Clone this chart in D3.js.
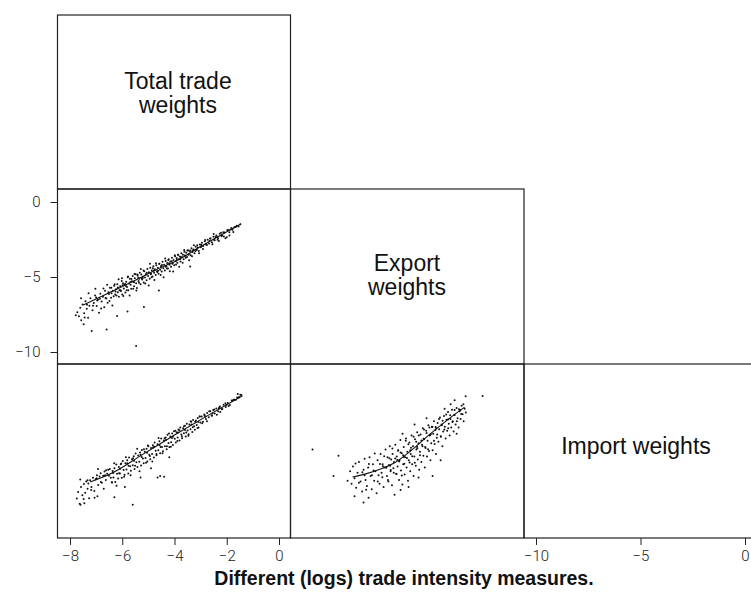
<!DOCTYPE html>
<html>
<head>
<meta charset="utf-8">
<script src="https://cdn.jsdelivr.net/npm/d3@7"></script>
<style>
  body { margin: 0; background: #fff; }
  .tick text { font-family: Roboto, "Liberation Sans", sans-serif; font-weight: 300; font-size: 15px; fill: #222; }
  .tick line { stroke: #222; }
  .diag { font-family: "Liberation Sans", Arial, sans-serif; font-size: 23px; fill: #111; }
</style>
</head>
<body>
<svg id="chart" width="751" height="598"></svg>
<script>
// variable names on the diagonal
var diagLabels = [["Total trade", "weights"], ["Export", "weights"], ["Import weights"]];
var title = "Different (logs) trade intensity measures.";

// tick labels
var totalTicks = [-8, -6, -4, -2, 0];
var exportTicks = [0, -5, -10];
var importTicks = [-10, -5, 0];

// export (y) against total (x)
var totalExport = [
  [-7.72,-7.35],[-7.66,-7.62],[-7.61,-7.05],[-7.57,-7.88],[-7.52,-6.83],[-7.46,-7.41],[-7.41,-6.62],[-7.36,-7.12],
  [-7.31,-7.71],[-7.26,-6.91],[-7.22,-6.42],[-7.14,-7.21],[-7.09,-6.74],[-7.04,-6.23],[-6.98,-6.93],[-6.93,-6.52],
  [-6.89,-7.38],[-6.84,-6.12],[-6.79,-6.63],[-6.74,-6.31],[-6.69,-7.02],[-6.66,-5.92],[-6.61,-6.44],[-6.56,-6.71],
  [-6.51,-6.13],[-7.17,-8.6],[-6.6,-8.5],[-5.47,-9.6],[-5.17,-7.0],[-7.48,-8.15],[-7.78,-7.55],[-6.2,-7.6],
  [-5.8,-7.3],[-4.6,-5.9],[-3.4,-4.3],
  [-6.47,-5.72],[-6.43,-6.38],[-6.41,-6.08],[-6.36,-5.91],[-6.33,-6.29],[-6.31,-5.58],[-6.27,-6.17],[-6.24,-5.82],
  [-6.19,-5.49],[-6.17,-6.02],[-6.13,-6.31],[-6.11,-5.88],[-6.08,-5.61],[-6.05,-5.93],[-6.02,-5.27],[-6.0,-6.16],
  [-5.97,-5.42],[-5.94,-5.77],[-5.92,-5.51],[-5.88,-6.03],[-5.85,-5.31],[-5.82,-5.66],[-5.79,-5.02],[-5.77,-5.88],
  [-5.74,-5.43],[-5.71,-5.12],[-5.68,-5.52],[-5.66,-5.79],[-5.63,-5.29],[-5.6,-4.93],[-5.57,-5.34],[-5.55,-5.61],
  [-5.52,-5.08],[-5.49,-4.82],[-5.47,-5.41],[-5.44,-5.73],[-5.41,-4.91],[-5.38,-5.27],[-5.35,-5.12],[-5.33,-4.72],
  [-5.3,-5.48],[-5.27,-4.83],[-5.24,-5.16],[-5.21,-4.98],[-5.18,-5.36],[-5.16,-4.62],[-5.13,-5.03],[-5.1,-4.81],
  [-5.07,-5.21],[-5.04,-4.47],[-5.01,-4.93],[-4.98,-4.68],[-4.95,-5.11],[-4.93,-4.38],[-4.9,-4.79],[-4.87,-4.56],
  [-4.84,-4.97],[-4.81,-4.29],[-4.78,-4.72],[-4.75,-4.48],[-4.72,-4.87],[-4.7,-4.22],[-4.67,-4.61],[-4.64,-4.38],
  [-4.61,-4.79],[-4.58,-4.12],[-4.55,-4.51],[-4.52,-4.27],[-4.49,-4.63],[-4.46,-3.98],[-4.43,-4.42],[-4.4,-4.18],
  [-4.37,-4.57],[-4.34,-3.93],[-4.31,-4.29],[-4.28,-4.07],[-4.25,-4.44],[-4.22,-3.82],[-4.19,-4.18],[-4.16,-3.96],
  [-4.13,-4.31],[-4.1,-3.71],[-4.07,-4.06],[-4.04,-3.86],[-4.01,-4.21],[-3.98,-3.62],[-3.95,-3.93],[-3.92,-3.74],
  [-3.89,-4.05],[-3.86,-3.51],[-3.83,-3.82],[-3.8,-3.63],[-3.77,-3.96],[-3.74,-3.42],[-3.71,-3.69],[-3.68,-3.52],
  [-3.65,-3.81],[-3.62,-3.31],[-3.58,-3.58],[-3.55,-3.39],[-3.52,-3.67],[-3.48,-3.21],[-3.45,-3.46],[-3.42,-3.28],
  [-3.38,-3.55],[-3.35,-3.09],[-3.31,-3.33],[-3.27,-3.16],[-3.23,-3.41],[-3.19,-2.98],[-3.15,-3.19],[-3.11,-3.03],
  [-3.07,-3.27],[-3.03,-2.84],[-2.99,-3.02],
  [-2.95,-2.71],[-2.9,-2.93],[-2.84,-2.62],[-2.79,-2.84],[-2.73,-2.51],[-2.68,-2.76],[-2.62,-2.44],[-2.57,-2.68],
  [-2.51,-2.32],[-2.46,-2.55],[-2.4,-2.23],[-2.33,-2.41],[-2.27,-2.12],[-2.2,-2.29],[-2.13,-2.02],[-2.05,-2.41],
  [-1.98,-1.86],[-1.9,-2.02],[-1.82,-1.74],[-1.71,-1.69],[-1.62,-1.58],[-1.55,-1.63],[-1.48,-1.49],[-2.3,-2.6],
  [-2.0,-2.35],[-1.75,-2.0],
  [-7.58,-6.42],[-7.44,-7.7],[-7.29,-6.09],[-7.12,-6.92],[-7.03,-5.78],[-6.96,-6.56],[-6.81,-7.1],[-6.72,-5.76],
  [-6.64,-6.4],[-6.58,-5.52],[-6.49,-6.6],[-6.42,-5.72],[-6.38,-6.9],[-6.29,-5.49],[-6.22,-6.23],[-6.14,-5.15],
  [-6.07,-5.88],[-6.01,-5.08],[-5.96,-6.27],[-5.89,-5.46],[-5.83,-5.88],[-5.78,-4.96],[-5.72,-6.24],[-5.65,-5.14],
  [-5.58,-5.79],[-5.53,-4.8],[-5.46,-5.9],[-5.42,-4.83],[-5.36,-5.38],[-5.29,-4.46],[-5.25,-5.08],[-5.19,-4.56],
  [-5.12,-5.43],[-5.06,-4.71],[-4.99,-5.57],[-4.94,-4.12],[-4.88,-5.02],[-4.83,-4.42],[-4.77,-5.2],[-4.71,-4.08],
  [-4.66,-4.67],[-4.59,-4.11],[-4.53,-4.87],[-4.48,-4.2],[-4.42,-5.02],[-4.36,-3.76],[-4.29,-4.44],[-4.24,-3.87],
  [-4.18,-4.61],[-4.11,-3.95],[-4.05,-4.63],[-3.99,-3.55],[-3.94,-4.17],[-3.87,-3.52],[-3.82,-4.32],[-3.76,-3.67],
  [-3.69,-4.05],[-3.63,-3.2],[-3.57,-3.72],[-3.51,-3.23],[-3.44,-3.88],[-3.39,-3.23],[-3.33,-3.62],[-3.26,-2.88],
  [-3.2,-3.27],[-3.13,-2.89],[-3.06,-3.41],[-2.98,-2.85],[-2.91,-3.13],[-2.83,-2.53],[-2.76,-2.87],[-2.64,-2.43],
  [-2.55,-2.81],[-2.43,-2.33],[-2.35,-2.52],[-2.22,-2.05],[-2.11,-2.3],[-1.95,-1.87],[-1.78,-1.85],[-1.9,-2.23],
  [-2.5,-2.13],
  [-7.35,-6.85],[-7.0,-6.36],[-6.86,-6.45],[-6.53,-6.02],[-6.26,-5.96],[-6.17,-5.7],[-5.99,-5.55],[-5.86,-5.6],
  [-5.69,-5.33],[-5.55,-5.35],[-5.39,-5.06],[-5.22,-5.08],[-5.09,-4.84],[-4.91,-4.81],[-4.79,-4.57],[-4.63,-4.58],
  [-4.51,-4.37],[-4.34,-4.32],[-4.21,-4.09],[-4.08,-4.12],[-3.91,-3.83],[-3.78,-3.8],[-3.61,-3.56],[-3.47,-3.51],
  [-3.29,-3.22],[-3.16,-3.19],[-2.96,-2.93],[-2.79,-2.8],[-2.66,-2.6],[-2.49,-2.52],[-2.37,-2.34],[-2.18,-2.22],
  [-2.08,-2.04],[-1.86,-1.83],[-1.66,-1.67]
];
var totalExportFit = [[-7.5,-6.87],[-6.5,-6.05],[-5.5,-5.22],[-4.5,-4.35],[-4,-3.98],[-3,-2.97],[-2,-1.99],[-1.46,-1.47]];

// import (y) against total (x)
var totalImport = [
  [-7.74,-8.05],[-7.69,-7.62],[-7.63,-8.38],[-7.58,-7.31],[-7.53,-7.84],[-7.47,-7.12],[-7.42,-7.68],[-7.38,-6.95],
  [-7.33,-7.42],[-7.27,-8.02],[-7.23,-6.88],[-7.18,-7.31],[-7.12,-6.72],[-7.07,-7.56],[-7.02,-6.81],[-6.97,-6.55],
  [-6.92,-7.18],[-6.87,-6.64],[-6.83,-6.42],[-6.78,-7.03],[-6.73,-6.58],[-6.68,-6.31],[-6.63,-6.86],[-6.58,-6.45],
  [-6.54,-6.2],[-7.6,-8.45],[-6.3,-7.96],[-5.6,-8.45],[-4.55,-6.6],[-5.9,-7.3],[-4.2,-5.4],[-7.45,-8.35],
  [-6.95,-7.9],[-5.3,-6.7],[-4.9,-6.1],[-4.65,-6.7],[-4.4,-6.65],
  [-6.48,-6.15],[-6.44,-6.72],[-6.4,-7.0],[-6.37,-6.28],[-6.34,-6.69],[-6.3,-6.1],[-6.27,-6.98],[-6.23,-5.87],
  [-6.2,-6.45],[-6.16,-6.76],[-6.13,-6.02],[-6.09,-6.44],[-6.06,-5.85],[-6.02,-6.71],[-5.98,-5.64],[-5.95,-6.21],
  [-5.91,-6.52],[-5.88,-5.79],[-5.84,-6.19],[-5.81,-5.6],[-5.77,-6.44],[-5.74,-5.41],[-5.7,-5.97],[-5.67,-6.27],
  [-5.63,-5.53],[-5.6,-5.92],[-5.56,-5.33],[-5.53,-6.15],[-5.49,-5.16],[-5.46,-5.72],[-5.42,-6.02],[-5.39,-5.29],
  [-5.35,-5.69],[-5.32,-5.1],[-5.28,-5.93],[-5.25,-4.94],[-5.21,-5.48],[-5.18,-5.79],[-5.14,-5.05],[-5.11,-5.45],
  [-5.07,-4.86],[-5.04,-5.68],[-5.0,-4.7],[-4.97,-5.24],[-4.93,-5.53],[-4.9,-4.81],[-4.86,-5.2],[-4.83,-4.63],
  [-4.79,-5.41],[-4.76,-4.45],[-4.72,-4.99],[-4.69,-5.28],[-4.65,-4.56],[-4.62,-4.95],[-4.58,-4.37],[-4.55,-5.14],
  [-4.51,-4.2],[-4.48,-4.74],[-4.44,-5.02],[-4.41,-4.32],[-4.37,-4.7],[-4.34,-4.13],[-4.3,-4.88],[-4.27,-3.96],
  [-4.23,-4.48],[-4.2,-4.75],[-4.16,-4.07],[-4.13,-4.44],[-4.09,-3.88],[-4.06,-4.61],[-4.02,-3.73],[-3.99,-4.21],
  [-3.95,-4.46],[-3.92,-3.8],[-3.88,-4.13],[-3.85,-3.62],[-3.81,-4.33],[-3.78,-3.49],[-3.74,-3.95],[-3.71,-4.19],
  [-3.67,-3.55],[-3.64,-3.87],[-3.6,-3.38],[-3.57,-4.07],[-3.53,-3.25],[-3.5,-3.69],[-3.46,-3.92],[-3.43,-3.3],
  [-3.39,-3.61],[-3.36,-3.12],[-3.32,-3.78],[-3.29,-3.02],[-3.25,-3.42],[-3.22,-3.64],[-3.18,-3.05],[-3.15,-3.34],
  [-3.11,-2.88],[-3.08,-3.5],[-3.04,-2.79],[-3.01,-3.18],
  [-2.96,-2.79],[-2.91,-3.12],[-2.86,-2.66],[-2.8,-2.95],[-2.75,-2.57],[-2.69,-2.84],[-2.63,-2.46],[-2.58,-2.73],
  [-2.52,-2.38],[-2.46,-2.59],[-2.4,-2.27],[-2.33,-2.46],[-2.26,-2.15],[-2.19,-2.33],[-2.12,-2.04],[-2.04,-2.18],
  [-1.96,-1.92],[-1.88,-2.06],[-1.79,-1.78],[-1.7,-1.71],[-1.6,-1.57],[-1.52,-1.55],[-1.44,-1.42],[-1.58,-1.35],
  [-2.25,-2.5],
  [-7.61,-6.83],[-7.48,-8.07],[-7.33,-6.87],[-7.19,-7.5],[-7.06,-7.99],[-6.93,-6.16],[-6.82,-6.98],[-6.71,-7.42],
  [-6.62,-6.23],[-6.51,-6.59],[-6.39,-7.02],[-6.31,-5.79],[-6.22,-7.23],[-6.12,-6.43],[-6.04,-5.8],[-5.93,-6.65],
  [-5.86,-5.4],[-5.76,-5.95],[-5.68,-6.55],[-5.59,-5.47],[-5.51,-5.95],[-5.43,-4.85],[-5.34,-6.3],[-5.26,-5.38],
  [-5.17,-4.88],[-5.09,-5.76],[-5.02,-4.64],[-4.94,-5.32],[-4.85,-5.68],[-4.78,-4.73],[-4.69,-5.2],[-4.61,-4.17],
  [-4.53,-4.75],[-4.46,-5.15],[-4.38,-4.19],[-4.29,-4.7],[-4.21,-3.88],[-4.14,-4.72],[-4.06,-4.09],[-3.97,-3.7],
  [-3.89,-4.36],[-3.81,-3.67],[-3.72,-4.05],[-3.64,-3.42],[-3.55,-3.81],[-3.47,-4.02],[-3.38,-3.09],[-3.3,-3.48],
  [-3.21,-3.12],[-3.12,-3.53],[-3.03,-2.79],[-2.94,-3.22],[-2.85,-2.73],[-2.76,-3.1],[-2.67,-2.46],[-2.57,-2.74],
  [-2.48,-2.34],[-2.38,-2.67],[-2.29,-2.21],[-2.17,-2.31],[-2.05,-1.94],[-1.93,-2.11],[-1.81,-1.76],[-1.65,-1.71],
  [-1.48,-1.39],
  [-7.3,-7.08],[-6.98,-6.75],[-6.66,-6.55],[-6.35,-6.41],[-6.08,-6.13],[-5.81,-5.79],[-5.55,-5.62],[-5.3,-5.24],
  [-5.05,-5.12],[-4.82,-4.77],[-4.57,-4.63],[-4.33,-4.29],[-4.1,-4.16],[-3.86,-3.82],[-3.6,-3.66],[-3.35,-3.31],
  [-3.09,-3.14],[-2.82,-2.79],[-2.55,-2.6],[-2.3,-2.28],[-2.02,-2.05],[-1.74,-1.72],[-1.55,-1.58]
];
var totalImportFit = [[-7.23,-6.99],[-6.47,-6.48],[-5.2,-5.2],[-4.0,-3.98],[-2.7,-2.7],[-1.4,-1.46]];

// import (y) against export (x)
var exportImport = [
  [-8.65,-6.6],[-8.4,-5.3],[-9.7,-4.9],[-7.95,-6.9],[-7.82,-6.3],[-7.75,-7.1],[-7.68,-6.0],[-7.6,-6.75],
  [-7.52,-7.35],[-7.45,-6.4],[-7.38,-5.7],[-7.3,-6.95],[-7.22,-7.6],[-7.15,-6.2],[-7.1,-5.5],[-7.05,-6.85],
  [-6.98,-7.25],[-6.92,-6.05],[-6.85,-5.4],[-6.8,-6.6],[-6.74,-7.45],[-6.68,-5.85],[-6.62,-6.9],[-6.56,-6.3],
  [-6.5,-7.7],[-6.45,-5.6],[-6.4,-6.55],[-6.35,-7.1],[-6.3,-5.2],[-6.25,-6.4],[-6.2,-5.85],[-6.15,-7.3],
  [-6.1,-6.05],[-6.05,-4.9],[-7.15,-8.3],[-6.9,-8.0],[-7.6,-7.9],
  [-5.98,-6.6],[-5.95,-5.4],[-5.91,-6.95],[-5.88,-5.9],[-5.84,-4.7],[-5.8,-6.3],[-5.77,-5.55],[-5.73,-7.2],
  [-5.7,-5.2],[-5.66,-6.1],[-5.63,-5.7],[-5.6,-7.8],[-5.56,-4.6],[-5.52,-6.45],[-5.49,-5.35],[-5.45,-6.0],
  [-5.42,-4.95],[-5.38,-6.85],[-5.35,-5.6],[-5.31,-4.3],[-5.28,-6.25],[-5.24,-5.15],[-5.21,-7.15],[-5.17,-5.85],
  [-5.14,-4.75],[-5.1,-6.5],[-5.07,-5.4],[-5.03,-4.2],[-5.0,-6.05],[-4.96,-5.05],[-4.93,-6.9],[-4.89,-5.6],
  [-4.86,-4.45],[-4.82,-6.3],[-4.79,-5.2],[-4.75,-4.0],[-4.72,-5.85],[-4.68,-4.7],[-4.65,-6.6],[-4.61,-5.35],
  [-4.58,-4.25],[-4.54,-5.95],[-4.51,-4.9],[-4.47,-3.8],[-4.44,-5.55],[-4.4,-4.5],[-4.37,-6.2],[-4.33,-5.05],
  [-4.3,-3.95],[-4.26,-5.7],[-4.23,-4.6],[-4.19,-3.55],[-4.16,-5.3],[-4.12,-4.25],[-4.09,-6.05],[-4.05,-4.8],
  [-4.02,-3.7],[-3.98,-5.35],[-3.95,-4.35],[-3.91,-3.35],[-3.88,-5.0],[-3.84,-4.0],[-3.81,-5.6],[-3.77,-4.5],
  [-3.74,-3.45],[-3.7,-4.95],[-3.67,-3.9],[-3.63,-3.1],[-3.6,-4.55],[-3.56,-3.65],[-3.53,-5.2],[-3.49,-4.15],
  [-3.7,-6.6],[-4.9,-7.3],[-5.3,-7.5],[-4.4,-6.7],[-3.3,-5.6],[-5.2,-3.9],[-4.6,-3.3],[-4.0,-2.9],
  [-3.45,-3.2],[-3.41,-4.4],[-3.37,-3.6],[-3.33,-2.85],[-3.29,-4.05],[-3.25,-3.3],[-3.21,-4.7],[-3.17,-3.75],
  [-3.13,-2.75],[-3.09,-3.45],[-3.05,-4.2],[-3.01,-3.0],[-2.97,-3.7],[-2.93,-2.5],[-2.89,-3.25],[-2.85,-4.0],
  [-2.81,-2.95],[-2.77,-3.5],[-2.73,-2.35],[-2.69,-3.1],[-2.65,-3.75],[-2.6,-2.7],[-2.55,-3.3],[-2.5,-2.25],
  [-2.45,-2.9],[-2.4,-3.5],[-2.35,-2.45],[-2.3,-2.95],[-2.25,-2.1],[-2.2,-2.65],[-2.15,-3.1],[-2.1,-2.3],
  [-2.05,-1.5],[-1.2,-1.48],[-2.8,-2.0],[-3.1,-2.3],[-2.5,-3.9],[-2.6,-1.75],
  [-7.55,-5.8],[-7.38,-7.03],[-7.21,-6.36],[-7.02,-7.48],[-6.88,-5.84],[-6.73,-6.55],[-6.59,-5.16],[-6.44,-6.95],
  [-6.33,-5.83],[-6.21,-6.68],[-6.12,-5.34],[-6.01,-6.08],[-5.93,-6.86],[-5.86,-5.46],[-5.79,-6.22],[-5.71,-4.84],
  [-5.64,-6.4],[-5.57,-5.48],[-5.5,-6.47],[-5.43,-4.98],[-5.37,-5.68],[-5.3,-5.09],[-5.24,-6.57],[-5.17,-5.28],
  [-5.11,-5.82],[-5.04,-4.35],[-4.98,-5.45],[-4.91,-4.57],[-4.85,-5.73],[-4.78,-4.79],[-4.72,-5.34],[-4.65,-4.09],
  [-4.59,-5.76],[-4.52,-4.41],[-4.46,-4.83],[-4.39,-4.0],[-4.33,-5.28],[-4.26,-4.32],[-4.2,-4.69],[-4.13,-3.63],
  [-4.07,-4.74],[-4.0,-3.84],[-3.93,-4.89],[-3.86,-3.49],[-3.79,-3.93],[-3.71,-3.46],[-3.63,-4.34],[-3.55,-3.46],
  [-3.47,-3.94],[-3.38,-2.95],[-3.29,-4.09],[-3.2,-3.06],[-3.11,-3.63],[-3.02,-2.66],[-2.92,-3.55],[-2.82,-2.71],
  [-2.71,-3.14],[-2.6,-2.38],[-2.49,-3.09],[-2.38,-2.33],[-2.27,-2.63],[-2.16,-2.0],[-2.04,-2.54],
  [-7.1,-6.55],[-6.65,-6.25],[-6.18,-5.98],[-5.82,-5.95],[-5.47,-5.58],[-5.14,-5.38],[-4.82,-4.95],[-4.48,-4.72],
  [-4.15,-4.21],[-3.84,-3.98],[-3.52,-3.55],[-3.24,-3.35],[-2.93,-2.98],[-2.62,-2.7],[-2.32,-2.38]
];
var exportImportFit = [[-7.7,-6.67],[-7.0,-6.45],[-6.3,-6.15],[-5.6,-5.75],[-4.8,-5.0],[-3.95,-4.05],[-3.0,-3.05],[-2.1,-2.19]];

// panel grid
var colX = [57.5, 290.5, 524, 757],
    rowY = [15, 189, 364, 538];

var svg = d3.select("#chart");

// one scale per variable and role, domains shared across a variable
var xTotal = d3.scaleLinear().domain([-8.48, 0.44]).range([colX[0], colX[1]]);
var xExport = d3.scaleLinear().domain([-10.8, 0.867]).range([colX[1], colX[2]]);
var xImport = d3.scaleLinear().domain([-10.574, 0.574]).range([colX[2], colX[3]]);
var yExport = d3.scaleLinear().domain([-10.8, 0.867]).range([rowY[2], rowY[1]]);
var yImport = d3.scaleLinear().domain([-10.574, 0.574]).range([rowY[3], rowY[2]]);

// frames of the lower triangle
var cells = [[0,0],[1,0],[1,1],[2,0],[2,1],[2,2]];
svg.selectAll(".frame")
    .data(cells)
  .enter().append("rect")
    .attr("class", "frame")
    .attr("x", function(d) { return colX[d[1]]; })
    .attr("y", function(d) { return rowY[d[0]]; })
    .attr("width", function(d) { return colX[d[1] + 1] - colX[d[1]]; })
    .attr("height", function(d) { return rowY[d[0] + 1] - rowY[d[0]]; })
    .style("fill", "none")
    .style("stroke", "#222")
    .style("stroke-width", 1.2);

// scatter panels
var panels = [
  {pts: totalExport, fit: totalExportFit, x: xTotal, y: yExport},
  {pts: totalImport, fit: totalImportFit, x: xTotal, y: yImport},
  {pts: exportImport, fit: exportImportFit, x: xExport, y: yImport}
];

panels.forEach(function(p) {
  svg.append("g").selectAll("circle")
      .data(p.pts)
    .enter().append("circle")
      .attr("cx", function(d) { return p.x(d[0]); })
      .attr("cy", function(d) { return p.y(d[1]); })
      .attr("r", 1)
      .style("fill", "#111");

  svg.append("path")
      .datum(p.fit)
      .attr("d", d3.line()
        .x(function(d) { return p.x(d[0]); })
        .y(function(d) { return p.y(d[1]); })
        .curve(d3.curveMonotoneX))
      .style("fill", "none")
      .style("stroke", "#111")
      .style("stroke-width", 1.1);
});

// axes
svg.append("g")
    .attr("transform", "translate(" + colX[0] + ",0)")
    .call(d3.axisLeft(yExport).tickValues(exportTicks).tickSize(7).tickPadding(10));
svg.append("g")
    .attr("transform", "translate(0," + rowY[3] + ")")
    .call(d3.axisBottom(xTotal).tickValues(totalTicks).tickSize(7).tickPadding(5));
svg.append("g")
    .attr("transform", "translate(0," + rowY[3] + ")")
    .call(d3.axisBottom(xImport).tickValues(importTicks).tickSize(7).tickPadding(5));
svg.selectAll(".domain").remove();
svg.selectAll(".tick text").attr("font-family", null).attr("font-size", null);

// diagonal labels
var diagPos = [[178, 89], [407, 271], [636, 454]];
diagLabels.forEach(function(lines, i) {
  var t = svg.append("text")
      .attr("class", "diag")
      .attr("text-anchor", "middle")
      .attr("x", diagPos[i][0])
      .attr("y", diagPos[i][1]);
  lines.forEach(function(s, j) {
    t.append("tspan")
        .attr("x", diagPos[i][0])
        .attr("dy", j === 0 ? 0 : 24)
        .text(s);
  });
});

svg.append("text")
    .attr("x", 404)
    .attr("y", 585)
    .attr("text-anchor", "middle")
    .style("font-family", "'Liberation Sans', Arial, sans-serif")
    .style("font-weight", "bold")
    .style("font-size", "19.5px")
    .style("fill", "#111")
    .text(title);
</script>
</body>
</html>
